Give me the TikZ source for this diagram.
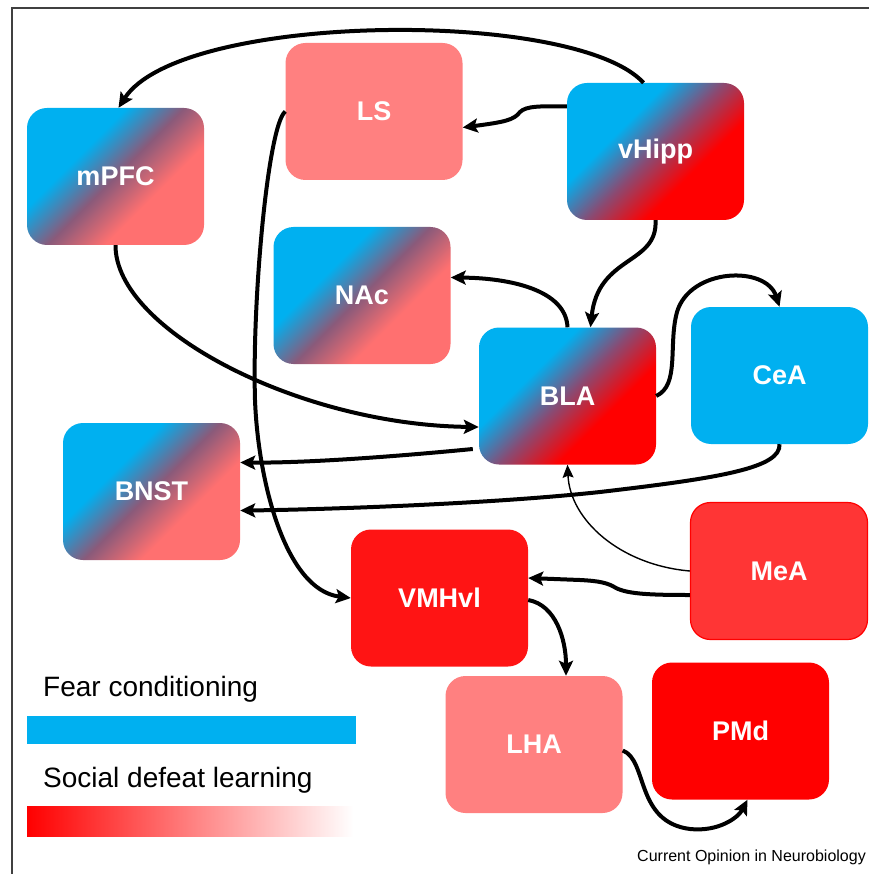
\documentclass[tikz,border=0pt]{standalone}
\usepackage{fontspec}
\setmainfont{Liberation Sans}
\usetikzlibrary{arrows.meta}
\definecolor{cblue}{HTML}{00B0F0}
\definecolor{csalmon}{HTML}{FF7070}
\definecolor{cpink}{HTML}{FF8080}
\definecolor{cmidA}{HTML}{8A5A7A}
\definecolor{cmidB}{HTML}{8A4A72}
\definecolor{cred}{HTML}{FF0000}
\definecolor{cvm}{HTML}{FF1414}
\definecolor{cmea}{HTML}{FF3535}
\definecolor{cframe}{HTML}{404040}
\pgfdeclarehorizontalshading{bluesalmon}{100bp}{color(0bp)=(cblue); color(37bp)=(cblue); color(50bp)=(cmidA); color(63bp)=(csalmon); color(100bp)=(csalmon)}
\pgfdeclarehorizontalshading{bluered}{100bp}{color(0bp)=(cblue); color(37bp)=(cblue); color(50bp)=(cmidB); color(63bp)=(cred); color(100bp)=(cred)}
\begin{document}
\begin{tikzpicture}[x=1pt,y=-1pt,
  region/.style={rectangle, rounded corners=20pt, minimum width=177pt, minimum height=137pt,
    inner sep=0pt, text=white, font=\bfseries\fontsize{27}{30}\selectfont},
  gradA/.style={region, shade, shading=bluesalmon, shading angle=-45},
  gradB/.style={region, shade, shading=bluered, shading angle=-45},
  wire/.style={line width=4pt, -{Stealth[length=15pt,width=14pt,inset=3pt]}},
  thinwire/.style={line width=1.4pt, -{Stealth[length=13pt,width=11pt,inset=2pt]}},
  legtext/.style={anchor=base west, inner sep=0pt, font=\fontsize{28}{30}\selectfont}
]
\useasboundingbox (0,0) rectangle (869,874);
\fill[white] (0,0) rectangle (869,874);
\draw[line width=1.5pt, cframe] (12,874) -- (12,8) -- (869,8);

% regions
\node[gradA] (mPFC) at (115.5,176.5) {mPFC};
\node[region, fill=cpink] (LS) at (374,111.5) {LS};
\node[gradB] (vHipp) at (655.5,151.5) {vHipp};
\node[gradA] (NAc) at (362,295.5) {NAc};
\node[gradB] (BLA) at (567.5,396) {BLA};
\node[region, fill=cblue] (CeA) at (779.5,375.5) {CeA};
\node[gradA] (BNST) at (151.5,491.5) {BNST};
\node[region, fill=cvm] (VMHvl) at (439.5,598) {VMHvl};
\node[region, fill=cmea, draw=cred, line width=1.2pt] (MeA) at (779,571) {MeA};
\node[region, fill=cpink] (LHA) at (534,744.5) {LHA};
\node[region, fill=cred] (PMd) at (740.5,731) {PMd};

% connectors
\draw[wire] ([xshift=-12pt]vHipp.north) .. controls (575,8) and (180,12) .. ([xshift=3pt]mPFC.north);
\draw[wire] ([yshift=45pt]vHipp.west) .. controls (540,106) and (526,106) .. (520,112)
  .. controls (514,120) and (505,122) .. ([yshift=-16pt]LS.east);
\draw[wire] (vHipp.south) .. controls (658,265) and (598,255) .. ([xshift=23pt]BLA.north);
\draw[wire] (BLA.north) .. controls (566,290) and (510,278) .. ([yshift=18pt]NAc.east);
\draw[wire] (BLA.east) .. controls (680,385) and (668,345) .. (677,312)
  .. controls (690,268) and (766,265) .. (CeA.north);
\draw[wire] (mPFC.south) .. controls (115,330) and (300,425) .. ([yshift=-31pt]BLA.west);
\draw[wire] ([xshift=-6pt,yshift=-53pt]BLA.west) .. controls (380,458) and (300,463) .. ([yshift=29pt]BNST.east);
\draw[wire] (CeA.south) .. controls (781,468) and (720,478) .. (600,492)
  .. controls (480,505) and (300,510) .. ([yshift=-19pt]BNST.east);
\draw[thinwire] (MeA.west) .. controls (620,565) and (570,520) .. (BLA.south);
\draw[wire] ([yshift=-24pt]MeA.west) .. controls (650,595) and (628,594) .. (616,588)
  .. controls (608,583) and (600,581) .. (580,580) -- ([yshift=20pt]VMHvl.east);
\draw[wire] (LS.west) .. controls (268,125) and (252,300) .. (255,400)
  .. controls (258,480) and (285,590) .. (VMHvl.west);
\draw[wire] ([yshift=-2pt]VMHvl.east) .. controls (556,605) and (566,640) .. ([xshift=32pt]LHA.north);
\draw[wire] ([yshift=-6pt]LHA.east) .. controls (648,760) and (635,822) .. (690,829)
  .. controls (718,832) and (738,818) .. ([xshift=7pt]PMd.south);

% legend
\node[legtext] (fear) at (43,696) {Fear conditioning};
\node[fill=cblue, minimum width=329pt, minimum height=28pt, inner sep=0pt, anchor=north west] (fearbar) at (27,716) {};
\node[legtext] (social) at (43,787) {Social defeat learning};
\node[left color=cred, right color=white, minimum width=326pt, minimum height=30pt, inner sep=0pt, anchor=north west] (socialbar) at (27,806) {};
\node[anchor=base east, inner sep=0pt, font=\fontsize{16}{18}\selectfont] (credit) at (866,861) {Current Opinion in Neurobiology};
\end{tikzpicture}
\end{document}
